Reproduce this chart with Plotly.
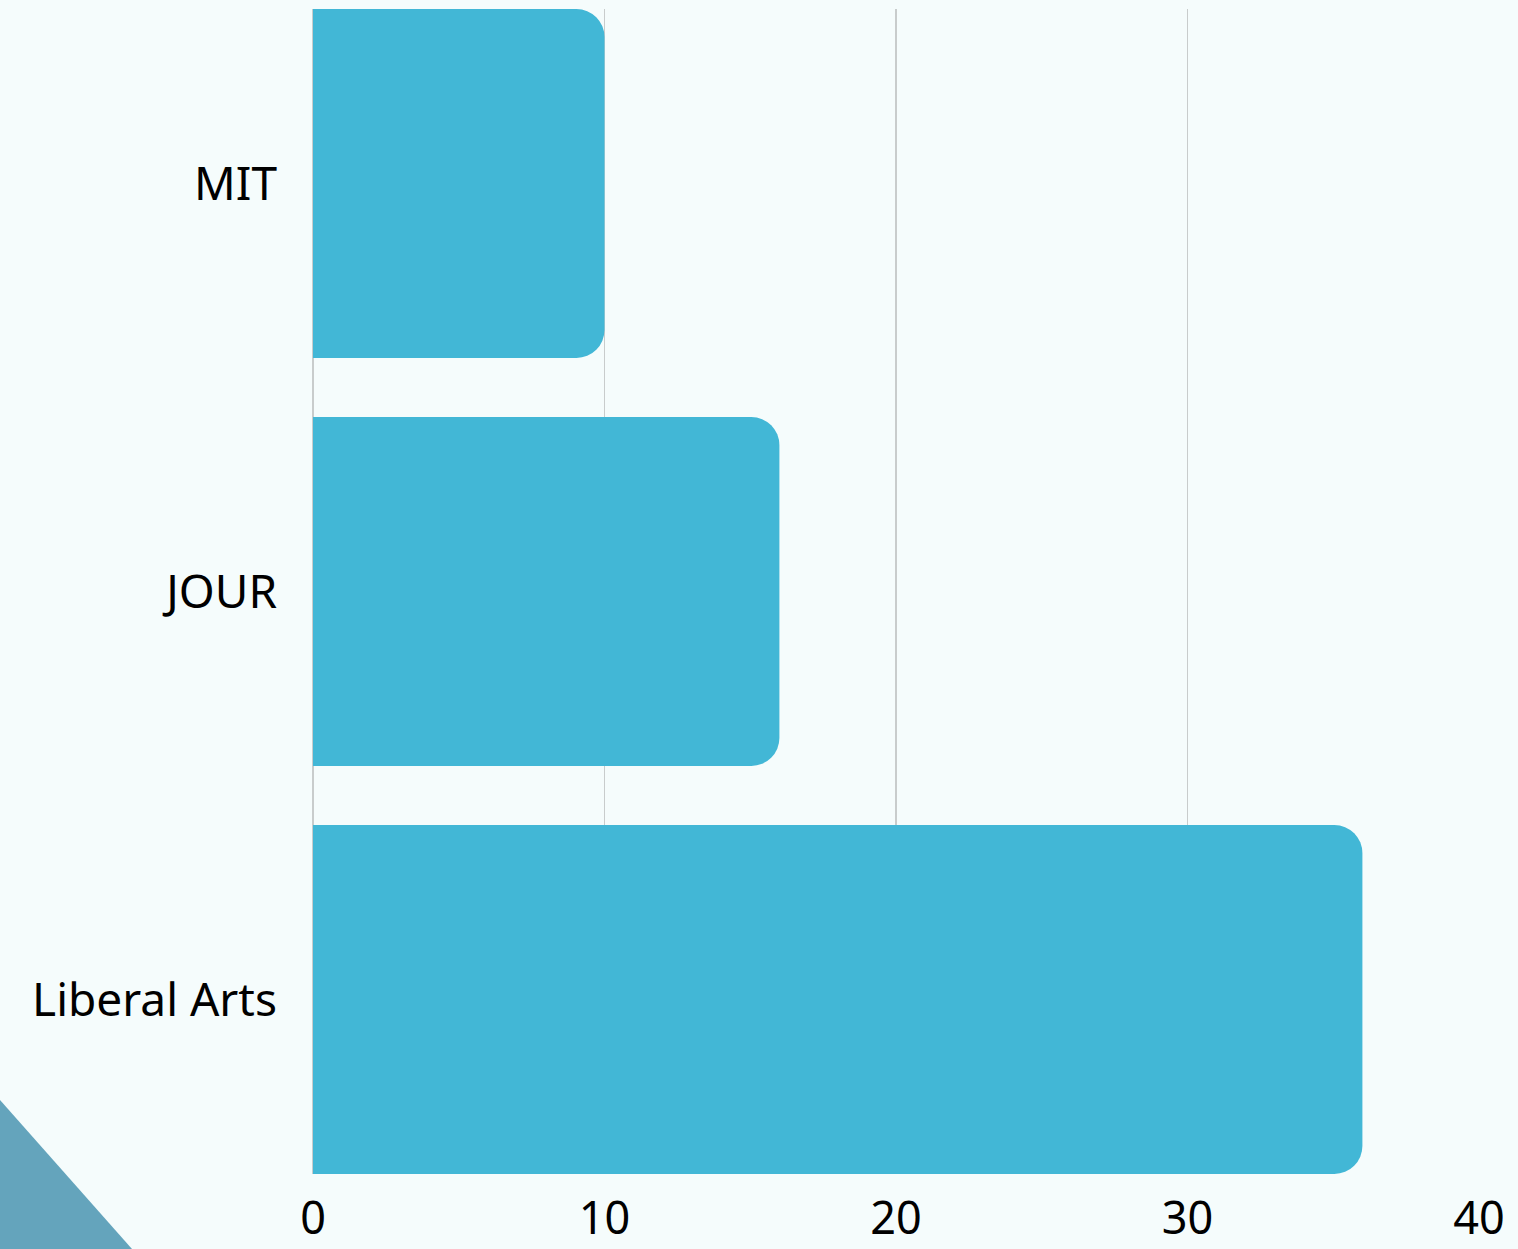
import plotly.graph_objects as go

categories = ["MIT", "JOUR", "Liberal Arts"]
values = [10, 16, 36]
x_ticks = [0, 10, 20, 30, 40]

W, H = 1518, 1249
L, R, T, B = 313, 39, 9, 75
pw, ph = W - L - R, H - T - B

def px2paper(px, py):
    return (px - L) / pw, (H - B - py) / ph

g = 0.1446

fig = go.Figure(go.Bar(
    x=values, y=categories, orientation="h",
    marker=dict(color="#42B7D6", line=dict(width=0)),
    hoverinfo="skip",
))

ax0, ay0 = px2paper(0, 1100)
ax1, ay1 = px2paper(132, 1249)
ax2, ay2 = px2paper(0, 1249)
fig.add_shape(type="path",
              path=f"M {ax0},{ay0} L {ax1},{ay1} L {ax2},{ay2} Z",
              xref="paper", yref="paper",
              fillcolor="#64A4BC", line=dict(width=0), layer="below")

fig.update_layout(
    width=W, height=H,
    margin=dict(l=L, r=R, t=T, b=B, pad=0, autoexpand=False),
    paper_bgcolor="#F5FCFC", plot_bgcolor="#F5FCFC",
    bargap=g, barcornerradius=28,
    font=dict(family="Noto Sans", size=46, color="#000000"),
    showlegend=False,
)
fig.update_xaxes(
    range=[0, 40], tickvals=x_ticks, ticktext=[str(t) for t in x_ticks],
    showgrid=True, gridcolor="#C8CCCC", gridwidth=1.5,
    zeroline=True, zerolinecolor="#C8CCCC", zerolinewidth=1.5,
    showline=False, ticks="", ticklabelstandoff=14, automargin=False,
    tickfont=dict(family="Noto Sans", size=45),
)
fig.update_yaxes(
    categoryorder="array", categoryarray=categories[::-1],
    range=[-0.5 + g / 2, 2.5 - g / 2],
    showgrid=False, zeroline=False, showline=False, ticks="",
    ticklabelstandoff=35, automargin=False,
    tickfont=dict(family="Noto Sans", size=46),
)

fig.write_html(
    "out.html",
    config={"displayModeBar": False, "staticPlot": True},
    post_script="document.body.style.margin='0';document.body.style.background='#F5FCFC';document.body.style.overflow='hidden';",
)
